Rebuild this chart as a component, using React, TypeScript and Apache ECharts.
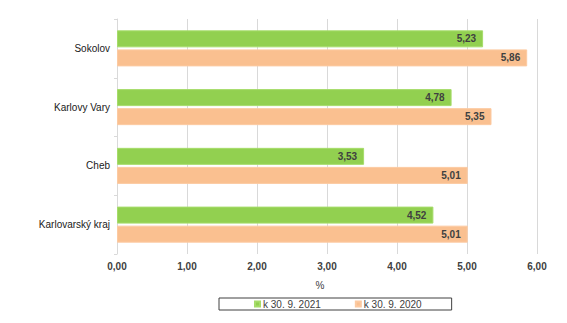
import React, { useEffect, useRef } from "react";
import * as echarts from "echarts";

const categories = ["Sokolov", "Karlovy Vary", "Cheb", "Karlovarský kraj"];
const series2021 = [5.23, 4.78, 3.53, 4.52];
const series2020 = [5.86, 5.35, 5.01, 5.01];
const seriesNames = ["k 30. 9. 2021", "k 30. 9. 2020"];
const axisName = "%";

const FONT = "'Liberation Sans', Arial, sans-serif";
const fmt = (v: number) => v.toFixed(2).replace(".", ",");

export default function App() {
  const ref = useRef<HTMLDivElement>(null);
  useEffect(() => {
    if (!ref.current) return;
    const chart = echarts.init(ref.current, null, { renderer: "svg" });
    const labelCfg = {
      show: true,
      position: "insideRight" as const,
      distance: 7,
      color: "#404040",
      fontFamily: FONT,
      fontSize: 10,
      fontWeight: "bold" as const,
      formatter: (p: any) => fmt(p.value),
    };
    chart.setOption({
      animation: false,
      textStyle: { fontFamily: FONT },
      grid: { left: 117, right: 30, top: 19, bottom: 69, containLabel: false },
      legend: {
        left: 219,
        top: 298,
        icon: "rect",
        itemWidth: 5,
        itemHeight: 5,
        itemGap: 34,
        padding: [1, 30, 1, 35],
        borderColor: "#404040",
        borderWidth: 1,
        textStyle: { fontFamily: FONT, fontSize: 10, color: "#404040", padding: [0, 0, 0, -2] },
        data: seriesNames,
      },
      xAxis: {
        type: "value",
        min: 0,
        max: 6,
        interval: 1,
        name: axisName,
        nameLocation: "middle",
        nameGap: 26,
        nameTextStyle: { fontFamily: FONT, fontSize: 10, color: "#404040", padding: [0, 14, 0, 0] },
        axisLine: { show: false },
        axisTick: { show: false },
        axisLabel: {
          margin: 7,
          fontFamily: FONT,
          fontSize: 10,
          fontWeight: "bold",
          color: "#404040",
          formatter: (v: number) => fmt(v),
        },
        splitLine: { show: true, lineStyle: { color: "#d9d9d9", width: 1 } },
      },
      yAxis: {
        type: "category",
        inverse: true,
        data: categories,
        axisLine: { show: true, lineStyle: { color: "#d9d9d9", width: 1 } },
        axisTick: { show: true, length: 3, lineStyle: { color: "#d9d9d9" } },
        axisLabel: { margin: 7, fontFamily: FONT, fontSize: 10, color: "#202020" },
        splitLine: { show: false },
      },
      series: [
        {
          name: seriesNames[0],
          type: "bar",
          data: series2021,
          barWidth: 17,
          barGap: "12%",
          itemStyle: { color: "#92D050", borderColor: "#a6dc6a", borderWidth: 1 },
          label: labelCfg,
        },
        {
          name: seriesNames[1],
          type: "bar",
          data: series2020,
          barWidth: 17,
          barGap: "12%",
          itemStyle: { color: "#FAC090", borderColor: "#fccaa2", borderWidth: 1 },
          label: labelCfg,
        },
      ],
    });
    return () => chart.dispose();
  }, []);
  return (
    <div
      ref={ref}
      style={{ position: "absolute", left: 0, top: 0, width: 567, height: 323, background: "#fff" }}
    />
  );
}
